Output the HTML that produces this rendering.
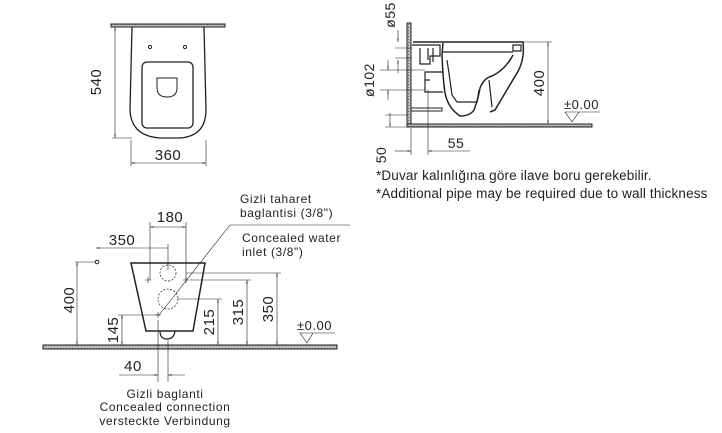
<!DOCTYPE html>
<html><head><meta charset="utf-8"><style>
html,body{margin:0;padding:0;background:#fff;}
svg{display:block;}
text{font-family:"Liberation Sans",sans-serif;fill:#222;}
</style></head><body>
<svg width="722" height="433" viewBox="0 0 722 433" xmlns="http://www.w3.org/2000/svg">
<defs>
<pattern id="h" width="3" height="3" patternUnits="userSpaceOnUse"><rect width="3" height="3" fill="#bbb"/><rect width="1" height="1" fill="#666"/></pattern>
<marker id="a" viewBox="0 0 10 10" refX="10" refY="5" markerWidth="6" markerHeight="6" orient="auto-start-reverse"><path d="M0,3 L10,5 L0,7z" fill="#222"/></marker>
</defs>
<g stroke="#222" fill="none" stroke-width="1">
<!-- plan view -->
<rect x="111" y="24" width="114" height="3" fill="url(#h)"/>
<path d="M132,27 L130,110 Q131,136 160,138 L180,138 Q206,136 206,110 L204,27" stroke-width="1.3"/>
<rect x="142" y="62" width="51" height="66" rx="5" stroke-width="1.3"/>
<path d="M157,78 L177,78 L177,88 Q177,97 167,97 Q157,97 157,88Z"/>
<circle cx="150" cy="47" r="1.6"/><circle cx="185" cy="47" r="1.6"/>
<g stroke-width="0.6"><line x1="115" y1="27" x2="115" y2="138" marker-start="url(#a)" marker-end="url(#a)"/>
<line x1="112" y1="138" x2="132" y2="138"/>
<line x1="131" y1="140" x2="131" y2="166"/><line x1="206" y1="140" x2="206" y2="166"/>
<line x1="131" y1="163" x2="206" y2="163" marker-start="url(#a)" marker-end="url(#a)"/></g>
<!-- side view -->
<rect x="407" y="23" width="4" height="103" fill="url(#h)"/>
<rect x="407" y="124" width="185" height="3" fill="url(#h)"/>
<path d="M413,42 L523,42 Q525,60 517,73 Q508,88 495,110 L490,112" stroke-width="1.5"/>
<path d="M443,43 L442,55 Q443,80 445,93 Q448,108 460,116 Q470,116 474,110 Q478,100 480,88 Q484,78 492,76 Q505,70 513,55" stroke-width="1.5"/>
<path d="M443,52 L513,52 M513,45 L521,45 L521,51 L513,51Z" stroke-width="1.2"/>
<path d="M447,60 Q450,80 452,95 L457,102 L477,102 L479,90 M489,80 L492,107" stroke-width="1.2"/>
<path d="M412,45 L440,45 L440,56 L430,56 L430,64 L420,64 L420,48 M428,48 L428,60 M433,48 L433,62" stroke-width="1.2"/>
<path d="M443,72 L425,72 L425,92 L443,92 M425,80 L430,80" stroke-width="1.2"/>
<path d="M411,108 L442,108 L442,111 L411,111"/>
<g stroke-width="0.6">
<line x1="523" y1="42" x2="552" y2="42"/><line x1="548" y1="42" x2="548" y2="124" marker-start="url(#a)" marker-end="url(#a)"/>
<path d="M565,112 L579,112 L572,122Z M570,112 L600,112"/>
<line x1="398" y1="30" x2="398" y2="42" marker-end="url(#a)"/><line x1="398" y1="73" x2="398" y2="60" marker-end="url(#a)"/>
<line x1="395" y1="48" x2="412" y2="48"/><line x1="395" y1="58" x2="412" y2="58"/>
<line x1="380" y1="70" x2="425" y2="70"/><line x1="380" y1="90" x2="425" y2="90"/>
<line x1="388" y1="60" x2="388" y2="70" marker-end="url(#a)"/><line x1="388" y1="100" x2="388" y2="90" marker-end="url(#a)"/>
<line x1="390" y1="113" x2="390" y2="127" marker-end="url(#a)"/><line x1="385" y1="115" x2="408" y2="115"/>
<line x1="385" y1="127" x2="408" y2="127"/>
<line x1="411" y1="128" x2="411" y2="155"/><line x1="428" y1="90" x2="428" y2="155"/>
<line x1="395" y1="151" x2="411" y2="151" marker-end="url(#a)"/><line x1="470" y1="151" x2="428" y2="151" marker-end="url(#a)"/>
</g>
<!-- front view -->
<rect x="43" y="345" width="294" height="4" fill="url(#h)"/>
<path d="M131,263 L205,263 L193,331 L146,331Z" stroke-width="1.5"/>
<path d="M160,331 Q160,339 167,339 Q174,339 175,331" stroke-width="1.2"/>
<g stroke-dasharray="2,1.5" stroke-width="0.7"><circle cx="168" cy="273" r="8"/><circle cx="168" cy="299" r="10"/></g>
<circle cx="97" cy="262" r="1.8"/>
<g stroke-width="0.6">
<path d="M145,280 h6 M148,277 v6 M183,280 h6 M186,277 v6 M155,315 h6 M158,312 v6"/>
<path d="M159,315 L230,225 L350,225"/>
<line x1="150" y1="222" x2="150" y2="280"/><line x1="186" y1="222" x2="186" y2="280"/>
<line x1="150" y1="227" x2="186" y2="227" marker-start="url(#a)" marker-end="url(#a)"/>
<line x1="168" y1="244" x2="168" y2="270"/>
<line x1="96" y1="248" x2="168" y2="248" marker-start="url(#a)"/>
<line x1="75" y1="262" x2="95" y2="262"/><line x1="77" y1="262" x2="77" y2="345" marker-start="url(#a)" marker-end="url(#a)"/>
<line x1="118" y1="315" x2="160" y2="315"/><line x1="122" y1="315" x2="122" y2="345" marker-start="url(#a)" marker-end="url(#a)"/>
<line x1="178" y1="299" x2="222" y2="299"/><line x1="218" y1="299" x2="218" y2="345" marker-start="url(#a)" marker-end="url(#a)"/>
<line x1="190" y1="280" x2="251" y2="280"/><line x1="247" y1="280" x2="247" y2="345" marker-start="url(#a)" marker-end="url(#a)"/>
<line x1="186" y1="273" x2="281" y2="273"/><line x1="277" y1="273" x2="277" y2="345" marker-start="url(#a)" marker-end="url(#a)"/>
<path d="M300,333 L313,333 L307,343Z M300,333 L335,333"/>
<line x1="158" y1="320" x2="158" y2="382"/><line x1="168" y1="340" x2="168" y2="382"/>
<line x1="119" y1="375" x2="158" y2="375" marker-end="url(#a)"/><line x1="185" y1="375" x2="168" y2="375" marker-end="url(#a)"/>
</g>
</g>
<g font-size="15" letter-spacing="0.5">
<text x="168" y="160" text-anchor="middle">360</text>
<text transform="translate(101,82) rotate(-90)" text-anchor="middle">540</text>
<text transform="translate(544,83) rotate(-90)" text-anchor="middle">400</text>
<text x="564" y="109" font-size="13">±0.00</text>
<text transform="translate(395,15) rotate(-90)" text-anchor="middle" font-size="14">ø55</text>
<text transform="translate(374,80) rotate(-90)" text-anchor="middle" font-size="14">ø102</text>
<text transform="translate(386,155) rotate(-90)" text-anchor="middle" font-size="14">50</text>
<text x="456" y="148" text-anchor="middle" font-size="14">55</text>
<text x="170" y="222" text-anchor="middle">180</text>
<text x="122" y="245" text-anchor="middle">350</text>
<text transform="translate(74,300) rotate(-90)" text-anchor="middle">400</text>
<text transform="translate(118,330) rotate(-90)" text-anchor="middle">145</text>
<text transform="translate(214,322) rotate(-90)" text-anchor="middle">215</text>
<text transform="translate(243,312) rotate(-90)" text-anchor="middle">315</text>
<text transform="translate(273,309) rotate(-90)" text-anchor="middle">350</text>
<text x="297" y="330" font-size="13">±0.00</text>
<text x="133" y="371" text-anchor="middle">40</text>
</g>
<g font-size="12" letter-spacing="0.6">
<text x="240" y="203">Gizli taharet</text>
<text x="240" y="217">baglantisi (3/8")</text>
<text x="242" y="242">Concealed water</text>
<text x="242" y="256">inlet (3/8")</text>
<text x="165" y="398" text-anchor="middle">Gizli baglanti</text>
<text x="165" y="411" text-anchor="middle">Concealed connection</text>
<text x="165" y="425" text-anchor="middle">versteckte Verbindung</text>
</g>
<g font-size="13.5" letter-spacing="0.15">
<text x="376" y="180">*Duvar kalınlığına göre ilave boru gerekebilir.</text>
<text x="376" y="198">*Additional pipe may be required due to wall thickness</text>
</g>
</svg>
</body></html>
